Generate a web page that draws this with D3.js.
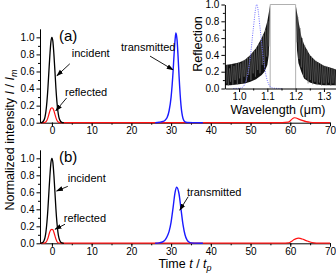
<!DOCTYPE html>
<html>
<head>
<meta charset="utf-8">
<script src="https://cdn.jsdelivr.net/npm/d3@7"></script>
<style>
  body { margin: 0; background: #fff; }
  svg { display: block; font-family: "Liberation Sans", Arial, sans-serif; }
  .tick text { font-size: 10px; }
</style>
</head>
<body>
<div id="chart"></div>
<script>
// ---- data ----
const incidentT = [-3, -2.5, -2, -1.75, -1.5, -1.25, -1, -0.75, -0.5, -0.25, 0, 0.25, 0.5, 0.75, 1, 1.25, 1.5, 1.75, 2, 2.5, 3];
const incidentI = [0, 0.004, 0.03, 0.066, 0.135, 0.25, 0.41, 0.61, 0.8, 0.95, 1.0, 0.95, 0.8, 0.61, 0.41, 0.25, 0.135, 0.066, 0.03, 0.004, 0];

const reflTA = [-3, -2, -1.5, -1.25, -1, -0.75, -0.5, -0.25, 0, 0.25, 0.5, 0.75, 1, 1.25, 1.5, 2, 3, 20, 40, 58, 59.5, 60, 60.5, 61, 61.5, 62, 63, 64, 65, 66, 68, 70];
const reflIA = [0.002, 0.002, 0.012, 0.03, 0.06, 0.1, 0.14, 0.168, 0.175, 0.168, 0.14, 0.1, 0.06, 0.03, 0.012, 0.002, 0.002, 0.002, 0.002, 0.002, 0.006, 0.022, 0.045, 0.058, 0.055, 0.045, 0.028, 0.013, 0.005, 0.002, 0.002, 0.002];

const reflTB = [-3, -2, -1.5, -1, -0.5, -0.25, 0, 0.25, 0.5, 0.75, 1, 1.5, 2, 3, 20, 40, 58, 59.5, 60, 60.5, 61, 61.5, 62, 62.5, 63, 64, 65, 66, 67, 70];
const reflIB = [0.002, 0.002, 0.012, 0.06, 0.14, 0.16, 0.165, 0.16, 0.13, 0.09, 0.05, 0.006, 0.002, 0.002, 0.002, 0.002, 0.002, 0.004, 0.012, 0.028, 0.045, 0.055, 0.06, 0.058, 0.05, 0.032, 0.015, 0.006, 0.002, 0.002];

const transTA = [26, 27, 28, 28.5, 29, 29.5, 30, 30.5, 30.75, 31, 31.2, 31.5, 31.75, 32, 32.5, 33, 33.5, 34, 36, 38];
const transIA = [0, 0.005, 0.015, 0.03, 0.06, 0.14, 0.3, 0.6, 0.8, 0.97, 1.05, 0.97, 0.78, 0.55, 0.2, 0.05, 0.01, 0.003, 0.001, 0];

const transTB = [26, 27, 28, 28.5, 29, 29.5, 30, 30.5, 31, 31.4, 32, 32.5, 33, 33.5, 34, 34.5, 35, 36, 38];
const transIB = [0, 0.005, 0.02, 0.04, 0.08, 0.14, 0.25, 0.42, 0.6, 0.66, 0.58, 0.4, 0.22, 0.1, 0.04, 0.015, 0.005, 0.002, 0];

// inset: reflection spectrum
const envWlL = [0.95, 0.97, 1.0, 1.02, 1.04, 1.06, 1.08, 1.09, 1.1, 1.105, 1.11];
const envHiL = [0.28, 0.29, 0.31, 0.34, 0.4, 0.48, 0.6, 0.68, 0.8, 0.9, 1.0];
const envLoL = [0.04, 0.04, 0.05, 0.06, 0.08, 0.11, 0.16, 0.2, 0.28, 0.4, 0.95];
const envWlR = [1.2, 1.205, 1.21, 1.22, 1.23, 1.25, 1.27, 1.3, 1.33, 1.35];
const envHiR = [1.0, 0.9, 0.8, 0.62, 0.52, 0.4, 0.33, 0.27, 0.24, 0.22];
const envLoR = [0.9, 0.45, 0.3, 0.2, 0.12, 0.07, 0.05, 0.04, 0.04, 0.04];

const oscWlL = [0.95, 0.954, 0.958, 0.962, 0.966, 0.97, 0.974, 0.978, 0.982, 0.986, 0.99, 0.994, 0.998, 1.002, 1.006, 1.01, 1.014, 1.018, 1.022, 1.026, 1.03, 1.034, 1.038, 1.042, 1.046, 1.05, 1.054, 1.058, 1.062, 1.066, 1.07, 1.074, 1.078, 1.082, 1.086, 1.09, 1.094, 1.098, 1.102, 1.106, 1.11];
const oscRL = [0.26, 0.06, 0.28, 0.03, 0.24, 0.08, 0.29, 0.04, 0.27, 0.1, 0.3, 0.05, 0.31, 0.12, 0.3, 0.06, 0.33, 0.14, 0.35, 0.08, 0.37, 0.16, 0.38, 0.1, 0.42, 0.18, 0.45, 0.14, 0.48, 0.22, 0.53, 0.18, 0.58, 0.28, 0.64, 0.25, 0.7, 0.38, 0.8, 0.5, 0.95];
const oscWlR = [1.2, 1.204, 1.208, 1.212, 1.216, 1.22, 1.224, 1.228, 1.232, 1.236, 1.24, 1.244, 1.248, 1.252, 1.256, 1.26, 1.264, 1.268, 1.272, 1.276, 1.28, 1.284, 1.288, 1.292, 1.296, 1.3, 1.304, 1.308, 1.312, 1.316, 1.32, 1.324, 1.328, 1.332, 1.336, 1.34, 1.344, 1.348];
const oscRR = [0.95, 0.55, 0.85, 0.35, 0.72, 0.25, 0.6, 0.15, 0.52, 0.12, 0.46, 0.06, 0.41, 0.1, 0.38, 0.05, 0.35, 0.08, 0.33, 0.04, 0.31, 0.07, 0.29, 0.03, 0.28, 0.06, 0.27, 0.04, 0.26, 0.07, 0.25, 0.03, 0.24, 0.06, 0.23, 0.04, 0.22, 0.05];

const bandWl = [1.11, 1.11, 1.2, 1.2];
const bandR = [0, 1, 1, 0];

const pulseWl = [0.98, 1.0, 1.01, 1.02, 1.03, 1.04, 1.05, 1.0625, 1.075, 1.085, 1.095, 1.105, 1.115, 1.13, 1.15];
const pulseR = [0, 0.002, 0.01, 0.05, 0.16, 0.38, 0.7, 1.0, 0.7, 0.38, 0.16, 0.05, 0.01, 0.002, 0];

const yTicks = [0, 0.2, 0.4, 0.6, 0.8, 1.0];
const xTicks = [0, 10, 20, 30, 40, 50, 60, 70];
const wlTicks = [1.0, 1.1, 1.2, 1.3];

// ---- layout ----
const W = 336, H = 279;
const svg = d3.select('#chart').append('svg').attr('width', W).attr('height', H);

svg.append('defs').append('marker')
  .attr('id', 'arr').attr('viewBox', '0 0 10 10')
  .attr('refX', 9).attr('refY', 5)
  .attr('markerWidth', 7).attr('markerHeight', 7)
  .attr('markerUnits', 'userSpaceOnUse')
  .attr('orient', 'auto')
  .append('path').attr('d', 'M0,1.5 L10,5 L0,8.5 Z').attr('fill', '#000');

const x = d3.scaleLinear().domain([-3, 70]).range([40, 330]);

const panels = [
  { y0: 122.7, y1: 28.8, refl: [reflTA, reflIA], trans: [transTA, transIA], tag: '(a)',
    notes: [
      { text: 'incident', lx: 5.0, ly: 0.77, from: [4.5, 0.69], to: [1.25, 0.55] },
      { text: 'reflected', lx: 3.3, ly: 0.31, from: [3.7, 0.29], to: [1.0, 0.14] },
      { text: 'transmitted', lx: 17.4, ly: 0.84, from: [24.7, 0.78], to: [30.5, 0.62] }
    ] },
  { y0: 243.3, y1: 149.8, refl: [reflTB, reflIB], trans: [transTB, transIB], tag: '(b)',
    notes: [
      { text: 'incident', lx: 4.0, ly: 0.72, from: [4.0, 0.67], to: [1.18, 0.615] },
      { text: 'reflected', lx: 3.0, ly: 0.25, from: [3.3, 0.224], to: [0.8, 0.165] },
      { text: 'transmitted', lx: 34.0, ly: 0.56, from: [34.3, 0.548], to: [32.2, 0.39] }
    ] }
];

panels.forEach(p => {
  const y = d3.scaleLinear().domain([0, 1.1]).range([p.y0, p.y1]);
  const g = svg.append('g');

  // minor ticks
  g.append('g').attr('transform', `translate(0,${p.y0})`)
    .call(d3.axisBottom(x).tickValues(d3.range(0, 71, 5)).tickSize(2).tickFormat(''))
    .call(a => a.select('.domain').remove());
  g.append('g').attr('transform', `translate(40,0)`)
    .call(d3.axisLeft(y).tickValues([0.1, 0.3, 0.5, 0.7, 0.9]).tickSize(2).tickFormat(''))
    .call(a => a.select('.domain').remove());

  g.append('g').attr('transform', `translate(0,${p.y0})`)
    .call(d3.axisBottom(x).tickValues(xTicks).tickSize(3.5).tickPadding(1).tickSizeOuter(0));
  g.append('g').attr('transform', `translate(40,0)`)
    .call(d3.axisLeft(y).tickValues(yTicks).tickFormat(d3.format('.1f')).tickSize(3.5).tickPadding(2).tickSizeOuter(0));

  const line = (ts, vs) => d3.line().x((d, i) => x(ts[i])).y(d => y(d)).curve(d3.curveMonotoneX)(vs);

  g.append('path').attr('d', line(p.refl[0], p.refl[1]))
    .attr('fill', 'none').attr('stroke', '#ff1010').attr('stroke-width', 1.2);
  g.append('path').attr('d', line(p.trans[0], p.trans[1]))
    .attr('fill', 'none').attr('stroke', '#1a1aff').attr('stroke-width', 1.4);
  g.append('path').attr('d', line(incidentT, incidentI))
    .attr('fill', 'none').attr('stroke', '#000').attr('stroke-width', 1.3);

  g.append('text').attr('x', 59).attr('y', p.y1 + 12)
    .attr('font-size', 15).text(p.tag);

  p.notes.forEach(n => {
    g.append('text').attr('x', x(n.lx)).attr('y', y(n.ly))
      .attr('font-size', 11).text(n.text);
    g.append('line')
      .attr('x1', x(n.from[0])).attr('y1', y(n.from[1]))
      .attr('x2', x(n.to[0])).attr('y2', y(n.to[1]))
      .attr('stroke', '#000').attr('stroke-width', 0.9)
      .attr('marker-end', 'url(#arr)');
  });
});

// axis titles
const yt = svg.append('text').attr('transform', 'translate(14,140) rotate(-90)')
  .attr('text-anchor', 'middle').attr('font-size', 12.5);
yt.append('tspan').text('Normalized intensity ');
yt.append('tspan').attr('font-style', 'italic').text('I');
yt.append('tspan').text(' / ');
yt.append('tspan').attr('font-style', 'italic').text('I');
yt.append('tspan').attr('font-style', 'italic').attr('font-size', 9).attr('dy', 3).text('m');

const xt = svg.append('text').attr('x', 185).attr('y', 268)
  .attr('text-anchor', 'middle').attr('font-size', 12.5);
xt.append('tspan').text('Time ');
xt.append('tspan').attr('font-style', 'italic').text('t');
xt.append('tspan').text(' / ');
xt.append('tspan').attr('font-style', 'italic').text('t');
xt.append('tspan').attr('font-style', 'italic').attr('font-size', 9).attr('dy', 3).text('p');

// ---- inset ----
const ix = d3.scaleLinear().domain([0.95, 1.35]).range([224.9, 338.1]);
const iy = d3.scaleLinear().domain([0, 1]).range([88.5, 4.5]);
const ins = svg.append('g');
const clip = svg.append('clipPath').attr('id', 'ic');
clip.append('rect').attr('x', 224.9).attr('y', 0).attr('width', 120).attr('height', 89);
const body = ins.append('g').attr('clip-path', 'url(#ic)');

const area = (ws, hi, lo) => d3.area().x((d, i) => ix(ws[i])).y0((d, i) => iy(lo[i])).y1(d => iy(d))(hi);
const iline = (ws, vs, c) => d3.line().x((d, i) => ix(ws[i])).y(d => iy(d)).curve(c || d3.curveLinear)(vs);

body.append('path').attr('d', area(envWlL, envHiL, envLoL)).attr('fill', '#111');
body.append('path').attr('d', area(envWlR, envHiR, envLoR)).attr('fill', '#111');
body.append('path').attr('d', iline(oscWlL, oscRL)).attr('fill', 'none').attr('stroke', '#777').attr('stroke-width', 0.45);
body.append('path').attr('d', iline(oscWlR, oscRR)).attr('fill', 'none').attr('stroke', '#777').attr('stroke-width', 0.45);
body.append('path').attr('d', iline(bandWl, bandR)).attr('fill', '#fff').attr('stroke', '#b0b0b0').attr('stroke-width', 1);
body.append('path').attr('d', iline(pulseWl, pulseR, d3.curveMonotoneX)).attr('fill', 'none')
  .attr('stroke', '#6f6fff').attr('stroke-width', 1).attr('stroke-dasharray', '1,1.3');

ins.append('g').attr('transform', 'translate(0,88.5)')
  .call(d3.axisBottom(ix).tickValues([1.05, 1.15, 1.25, 1.35]).tickSize(2).tickFormat(''))
  .call(a => a.select('.domain').remove());
ins.append('g').attr('transform', 'translate(224.9,0)')
  .call(d3.axisLeft(iy).tickValues([0.1, 0.3, 0.5, 0.7, 0.9]).tickSize(2).tickFormat(''))
  .call(a => a.select('.domain').remove());
ins.append('g').attr('transform', 'translate(0,88.5)')
  .call(d3.axisBottom(ix).tickValues(wlTicks).tickFormat(d3.format('.1f')).tickSize(3.5).tickPadding(1).tickSizeOuter(0));
ins.append('g').attr('transform', 'translate(224.9,0)')
  .call(d3.axisLeft(iy).tickValues(yTicks).tickFormat(d3.format('.1f')).tickSize(3.5).tickPadding(2).tickSizeOuter(0));

ins.append('text').attr('transform', 'translate(202,44) rotate(-90)')
  .attr('text-anchor', 'middle').attr('font-size', 12.5).text('Reflection');
ins.append('text').attr('x', 278).attr('y', 114)
  .attr('text-anchor', 'middle').attr('font-size', 12.5).text('Wavelength (μm)');
</script>
</body>
</html>
